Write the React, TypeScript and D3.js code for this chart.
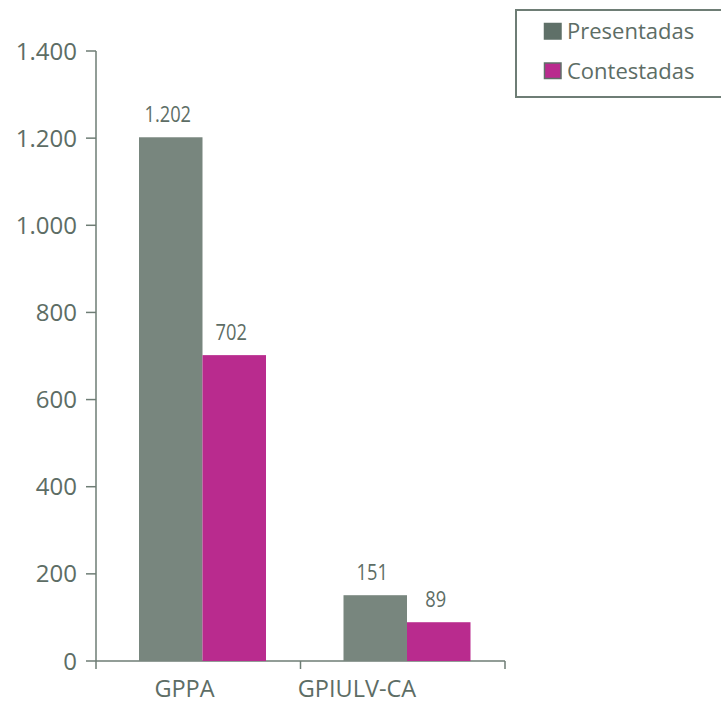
import React from "react";
import * as d3 from "d3";

const categories = ["GPPA", "GPIULV-CA"];
const seriesNames = ["Presentadas", "Contestadas"];
const presentadas = [1202, 151];
const contestadas = [702, 89];
const yTicks = [0, 200, 400, 600, 800, 1000, 1200, 1400];

const W = 721;
const H = 705;
const colors = ["#78867e", "#b92b8e"];
const textColor = "#5d6d65";
const axisColor = "#6e7d75";
const legendDark = "#5f7068";
const font = "'Open Sans', 'Noto Sans', sans-serif";

const fmt = (v: number) => d3.format(",")(v).replace(/,/g, ".");

export default function App() {
  const x = d3.scaleBand<string>().domain(categories).range([96, 505]);
  const xLabel = d3.scalePoint<string>().domain(categories).range([184.5, 357]);
  const y = d3.scaleLinear().domain([0, 1400]).range([661, 51]);
  const inner = d3.scaleBand<string>().domain(seriesNames).range([43, 170]);
  const values = [presentadas, contestadas];
  const x0 = 96;
  const x1 = 505;

  return (
    <svg
      width={W}
      height={H}
      style={{ position: "absolute", left: 0, top: 0, background: "#fff" }}
      fontFamily={font}
    >
      {/* y axis */}
      <line x1={x0} x2={x0} y1={y(1400)} y2={y(0)} stroke={axisColor} strokeWidth={1.5} />
      {yTicks.map((t) => (
        <g key={t}>
          <line x1={x0 - 10} x2={x0} y1={y(t)} y2={y(t)} stroke={axisColor} strokeWidth={1.5} />
          <text x={77} y={y(t)} dy="0.36em" textAnchor="end" fontSize={24} fill={textColor}>
            {fmt(t)}
          </text>
        </g>
      ))}
      {/* x axis */}
      <line x1={x0} x2={x1} y1={y(0)} y2={y(0)} stroke={axisColor} strokeWidth={1.5} />
      {[...categories.map((c) => x(c) as number), x1].map((xx, i) => (
        <line key={i} x1={xx} x2={xx} y1={y(0)} y2={y(0) + 8} stroke={axisColor} strokeWidth={1.5} />
      ))}
      {categories.map((c) => (
        <text key={c} x={xLabel(c)} y={697} textAnchor="middle" fontSize={23.5} fill={textColor}>
          {c}
        </text>
      ))}
      {/* bars */}
      {categories.map((c, ci) =>
        seriesNames.map((s, si) => {
          const v = values[si][ci];
          const bx = (x(c) as number) + (inner(s) as number);
          const bw = inner.bandwidth();
          return (
            <g key={c + s}>
              <rect x={bx} y={y(v)} width={bw} height={y(0) - y(v)} fill={colors[si]} />
              <text
                transform={`translate(${bx + bw / 2 - 3},${y(v) - 15}) scale(0.83,1)`}
                textAnchor="middle"
                fontSize={22}
                fill={textColor}
              >
                {fmt(v)}
              </text>
            </g>
          );
        })
      )}
      {/* legend */}
      <rect x={516} y={10} width={220} height={87} fill="none" stroke={axisColor} strokeWidth={2} />
      {seriesNames.map((s, i) => (
        <g key={s}>
          <rect
            x={544.5}
            y={23.5 + i * 39.5}
            width={16.5}
            height={15.5}
            fill={i === 0 ? legendDark : colors[1]}
            stroke={legendDark}
            strokeWidth={1.5}
          />
          <text x={567} y={38.5 + i * 40} fontSize={22} fill={textColor}>
            {s}
          </text>
        </g>
      ))}
    </svg>
  );
}
